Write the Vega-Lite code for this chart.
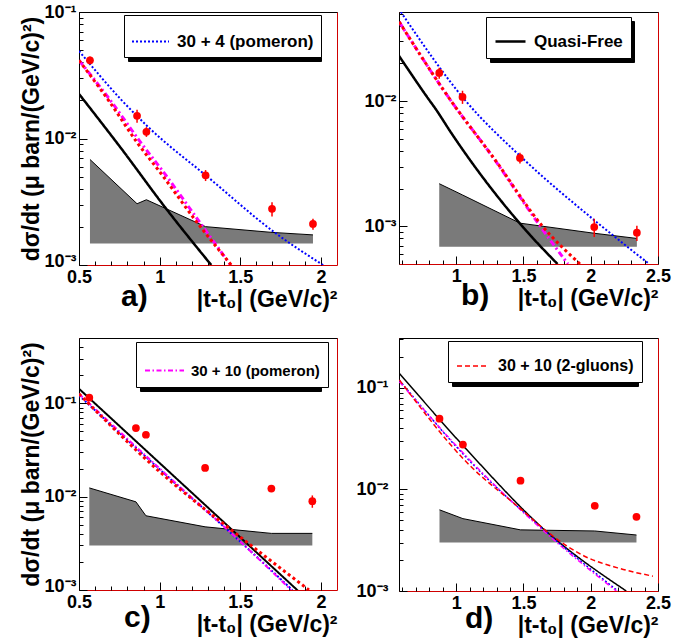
{
"$schema": "https://vega.github.io/schema/vega-lite/v6.json",
"padding": {"left": 19, "top": 2, "right": 0, "bottom": 0},
"background": "white",
"config": {
  "font": "Liberation Sans",
  "view": {"stroke": "#d00000", "strokeWidth": 1},
  "axis": {"labelFont": "Liberation Sans", "labelFontWeight": "bold", "labelColor": "black", "titleFont": "Liberation Sans", "titleFontWeight": "bold", "titleColor": "black", "grid": false, "tickColor": "black", "domainColor": "black", "labelFlush": false, "labelOverlap": false, "tickWidth": 1, "domainWidth": 1},
  "legend": {"labelFont": "Liberation Sans", "labelFontWeight": "bold", "labelColor": "black", "cornerRadius": 0, "labelLimit": 400},
  "title": {"font": "Liberation Sans", "fontWeight": "bold", "color": "black"}
},
"datasets": {
  "pts": [
    {"p":"a","x":0.568,"y":0.0415,"lo":0.0386,"hi":0.0444},
    {"p":"a","x":0.86,"y":0.0151,"lo":0.0133,"hi":0.0169},
    {"p":"a","x":0.918,"y":0.0113,"lo":0.0103,"hi":0.0123},
    {"p":"a","x":1.285,"y":0.00512,"lo":0.00461,"hi":0.00563},
    {"p":"a","x":1.697,"y":0.00278,"lo":0.00242,"hi":0.00314},
    {"p":"a","x":1.951,"y":0.00211,"lo":0.0019,"hi":0.00232},
    {"p":"b","x":0.874,"y":0.0168,"lo":0.0151,"hi":0.0185},
    {"p":"b","x":1.047,"y":0.0108,"lo":0.0095,"hi":0.0121},
    {"p":"b","x":1.474,"y":0.00352,"lo":0.00317,"hi":0.00387},
    {"p":"b","x":2.026,"y":0.000987,"lo":0.00082,"hi":0.00115},
    {"p":"b","x":2.343,"y":0.00089,"lo":0.000765,"hi":0.00101},
    {"p":"c","x":0.564,"y":0.1146,"lo":0.109,"hi":0.12},
    {"p":"c","x":0.853,"y":0.0543,"lo":0.0516,"hi":0.057},
    {"p":"c","x":0.915,"y":0.046,"lo":0.0437,"hi":0.0483},
    {"p":"c","x":1.282,"y":0.0203,"lo":0.0193,"hi":0.0213},
    {"p":"c","x":1.693,"y":0.0122,"lo":0.0112,"hi":0.0132},
    {"p":"c","x":1.947,"y":0.00894,"lo":0.0076,"hi":0.0103},
    {"p":"d","x":0.876,"y":0.0497,"lo":0.0478,"hi":0.0516},
    {"p":"d","x":1.05,"y":0.0277,"lo":0.0266,"hi":0.0288},
    {"p":"d","x":1.478,"y":0.0122,"lo":0.0117,"hi":0.0127},
    {"p":"d","x":2.03,"y":0.0069,"lo":0.0066,"hi":0.0072},
    {"p":"d","x":2.34,"y":0.00537,"lo":0.00515,"hi":0.00559}
  ],
  "band": [
    {"p":"a","x":0.568,"lo":0.00148,"hi":0.00683},
    {"p":"a","x":0.86,"lo":0.00148,"hi":0.00305},
    {"p":"a","x":0.918,"lo":0.00148,"hi":0.00328},
    {"p":"a","x":1.285,"lo":0.00148,"hi":0.00201},
    {"p":"a","x":1.697,"lo":0.00148,"hi":0.00181},
    {"p":"a","x":1.951,"lo":0.00148,"hi":0.00173},
    {"p":"b","x":0.874,"lo":0.000687,"hi":0.00219},
    {"p":"b","x":1.047,"lo":0.000687,"hi":0.00178},
    {"p":"b","x":1.474,"lo":0.000687,"hi":0.00106},
    {"p":"b","x":2.026,"lo":0.000687,"hi":0.00088},
    {"p":"b","x":2.343,"lo":0.000687,"hi":0.0008},
    {"p":"c","x":0.564,"lo":0.003,"hi":0.0124},
    {"p":"c","x":0.853,"lo":0.003,"hi":0.0088},
    {"p":"c","x":0.915,"lo":0.003,"hi":0.00624},
    {"p":"c","x":1.282,"lo":0.003,"hi":0.00475},
    {"p":"c","x":1.693,"lo":0.003,"hi":0.00404},
    {"p":"c","x":1.947,"lo":0.003,"hi":0.00404},
    {"p":"d","x":0.876,"lo":0.003,"hi":0.0063},
    {"p":"d","x":1.05,"lo":0.003,"hi":0.00516},
    {"p":"d","x":1.478,"lo":0.003,"hi":0.004},
    {"p":"d","x":2.03,"lo":0.003,"hi":0.0039},
    {"p":"d","x":2.34,"lo":0.003,"hi":0.00356}
  ],
  "lines": [
    {"p":"a","m":"Quasi-Free","x":0.5,"y":0.0225},
    {"p":"a","m":"Quasi-Free","x":0.76,"y":0.0084},
    {"p":"a","m":"Quasi-Free","x":1.03,"y":0.0029},
    {"p":"a","m":"Quasi-Free","x":1.32,"y":0.001},
    {"p":"a","m":"30 + 4 (pomeron)","x":0.5,"y":0.0492},
    {"p":"a","m":"30 + 4 (pomeron)","x":0.761,"y":0.0203},
    {"p":"a","m":"30 + 4 (pomeron)","x":0.927,"y":0.0124},
    {"p":"a","m":"30 + 4 (pomeron)","x":1.299,"y":0.00496},
    {"p":"a","m":"30 + 4 (pomeron)","x":1.713,"y":0.00181},
    {"p":"a","m":"30 + 4 (pomeron)","x":2.024,"y":0.00098},
    {"p":"a","m":"30 + 10 (pomeron)","x":0.5,"y":0.0415},
    {"p":"a","m":"30 + 10 (pomeron)","x":0.7,"y":0.0196},
    {"p":"a","m":"30 + 10 (pomeron)","x":0.88,"y":0.0094},
    {"p":"a","m":"30 + 10 (pomeron)","x":1.03,"y":0.0053},
    {"p":"a","m":"30 + 10 (pomeron)","x":1.23,"y":0.00235},
    {"p":"a","m":"30 + 10 (pomeron)","x":1.44,"y":0.001},
    {"p":"a","m":"30 + 10 (2-gluons)","x":0.5,"y":0.0415},
    {"p":"a","m":"30 + 10 (2-gluons)","x":0.688,"y":0.0196},
    {"p":"a","m":"30 + 10 (2-gluons)","x":0.864,"y":0.00916},
    {"p":"a","m":"30 + 10 (2-gluons)","x":1.009,"y":0.00528},
    {"p":"a","m":"30 + 10 (2-gluons)","x":1.216,"y":0.00231},
    {"p":"a","m":"30 + 10 (2-gluons)","x":1.444,"y":0.001},
    {"p":"b","m":"Quasi-Free","x":0.576,"y":0.0229},
    {"p":"b","m":"Quasi-Free","x":0.787,"y":0.01066},
    {"p":"b","m":"Quasi-Free","x":0.849,"y":0.0086},
    {"p":"b","m":"Quasi-Free","x":0.961,"y":0.00562},
    {"p":"b","m":"Quasi-Free","x":1.506,"y":0.00096},
    {"p":"b","m":"Quasi-Free","x":1.753,"y":0.0005},
    {"p":"b","m":"30 + 4 (pomeron)","x":0.589,"y":0.0515},
    {"p":"b","m":"30 + 4 (pomeron)","x":1.072,"y":0.01},
    {"p":"b","m":"30 + 4 (pomeron)","x":1.493,"y":0.0035},
    {"p":"b","m":"30 + 4 (pomeron)","x":2.026,"y":0.00112},
    {"p":"b","m":"30 + 4 (pomeron)","x":2.435,"y":0.0005},
    {"p":"b","m":"30 + 10 (pomeron)","x":0.576,"y":0.043},
    {"p":"b","m":"30 + 10 (pomeron)","x":0.96,"y":0.0101},
    {"p":"b","m":"30 + 10 (pomeron)","x":1.27,"y":0.0036},
    {"p":"b","m":"30 + 10 (pomeron)","x":1.625,"y":0.001},
    {"p":"b","m":"30 + 10 (pomeron)","x":1.83,"y":0.0005},
    {"p":"b","m":"30 + 10 (2-gluons)","x":0.576,"y":0.043},
    {"p":"b","m":"30 + 10 (2-gluons)","x":0.963,"y":0.01},
    {"p":"b","m":"30 + 10 (2-gluons)","x":1.28,"y":0.0035},
    {"p":"b","m":"30 + 10 (2-gluons)","x":1.642,"y":0.001},
    {"p":"b","m":"30 + 10 (2-gluons)","x":1.92,"y":0.0005},
    {"p":"c","m":"Quasi-Free","x":0.5,"y":0.143},
    {"p":"c","m":"Quasi-Free","x":1.0,"y":0.0229},
    {"p":"c","m":"Quasi-Free","x":1.5,"y":0.00366},
    {"p":"c","m":"Quasi-Free","x":1.864,"y":0.00096},
    {"p":"c","m":"30 + 4 (pomeron)","x":0.5,"y":0.121},
    {"p":"c","m":"30 + 4 (pomeron)","x":1.0,"y":0.0196},
    {"p":"c","m":"30 + 4 (pomeron)","x":1.5,"y":0.0033},
    {"p":"c","m":"30 + 4 (pomeron)","x":1.823,"y":0.001},
    {"p":"c","m":"30 + 10 (pomeron)","x":0.5,"y":0.126},
    {"p":"c","m":"30 + 10 (pomeron)","x":1.0,"y":0.02},
    {"p":"c","m":"30 + 10 (pomeron)","x":1.5,"y":0.0033},
    {"p":"c","m":"30 + 10 (pomeron)","x":1.815,"y":0.001},
    {"p":"c","m":"30 + 10 (2-gluons)","x":0.5,"y":0.126},
    {"p":"c","m":"30 + 10 (2-gluons)","x":1.0,"y":0.0185},
    {"p":"c","m":"30 + 10 (2-gluons)","x":1.5,"y":0.0037},
    {"p":"c","m":"30 + 10 (2-gluons)","x":1.926,"y":0.001},
    {"p":"d","m":"Quasi-Free","x":0.578,"y":0.139},
    {"p":"d","m":"Quasi-Free","x":1.078,"y":0.0247},
    {"p":"d","m":"Quasi-Free","x":1.657,"y":0.004},
    {"p":"d","m":"Quasi-Free","x":2.264,"y":0.001},
    {"p":"d","m":"30 + 4 (pomeron)","x":0.578,"y":0.119},
    {"p":"d","m":"30 + 4 (pomeron)","x":1.078,"y":0.0205},
    {"p":"d","m":"30 + 4 (pomeron)","x":1.67,"y":0.0038},
    {"p":"d","m":"30 + 4 (pomeron)","x":2.202,"y":0.001},
    {"p":"d","m":"30 + 10 (pomeron)","x":0.578,"y":0.115},
    {"p":"d","m":"30 + 10 (pomeron)","x":1.078,"y":0.021},
    {"p":"d","m":"30 + 10 (pomeron)","x":1.67,"y":0.0037},
    {"p":"d","m":"30 + 10 (pomeron)","x":2.19,"y":0.001},
    {"p":"d","m":"30 + 10 (2-gluons)","x":0.578,"y":0.12},
    {"p":"d","m":"30 + 10 (2-gluons)","x":1.078,"y":0.0185},
    {"p":"d","m":"30 + 10 (2-gluons)","x":1.5,"y":0.0061},
    {"p":"d","m":"30 + 10 (2-gluons)","x":1.67,"y":0.0039},
    {"p":"d","m":"30 + 10 (2-gluons)","x":1.954,"y":0.0022},
    {"p":"d","m":"30 + 10 (2-gluons)","x":2.2,"y":0.00169},
    {"p":"d","m":"30 + 10 (2-gluons)","x":2.462,"y":0.0014}
  ]
},
"spacing": 24,
"resolve": {"scale": {"color": "independent", "strokeDash": "independent", "shape": "independent"}, "legend": {"color": "independent", "strokeDash": "independent", "shape": "independent"}},
"vconcat": [
{"spacing": 25,
 "resolve": {"scale": {"color": "independent", "strokeDash": "independent", "shape": "independent"}, "legend": {"color": "independent", "strokeDash": "independent", "shape": "independent"}},
 "hconcat": [
{
 "width": 258, "height": 253,
 "title": {"text": "a)", "orient": "bottom", "anchor": "start", "frame": "group", "fontSize": 30, "offset": -29, "dx": 42},
 "resolve": {"axis": {"x": "independent", "y": "independent"}},
 "layer": [
  {"data": {"name": "lines"}, "transform": [{"filter": "datum.p == 'a' && datum.m == '30 + 4 (pomeron)'"}],
   "mark": {"type": "point", "filled": true, "opacity": 0},
   "encoding": {
     "x": {"field": "x", "type": "quantitative", "scale": {"domain": [0.5, 2.1], "nice": false, "zero": false}, "axis": null},
     "y": {"field": "y", "type": "quantitative", "scale": {"type": "log", "domain": [0.001, 0.1], "nice": false}, "axis": null},
     "shape": {"field": "m", "type": "nominal", "scale": {"domain": ["30 + 4 (pomeron)"], "range": ["stroke"]},
       "legend": {"orient": "none", "legendX": 49, "legendY": 7, "title": null, "symbolType": "stroke", "symbolSize": 1369, "symbolStrokeWidth": 2, "symbolOpacity": 0, "labelFontSize": 17, "labelOffset": 140, "padding": 7, "fillColor": "black", "strokeColor": "black", "labelColor": "black", "labelExpr": "''"}}
   }},
  {"data": {"name": "band"}, "transform": [{"filter": "datum.p == 'a'"}],
   "mark": {"type": "area", "color": "#7a7a7a", "opacity": 1},
   "encoding": {
     "x": {"field": "x", "type": "quantitative", "scale": {"domain": [0.5, 2.1], "nice": false, "zero": false},
       "axis": {"orient": "bottom", "values": [0.5, 1, 1.5, 2], "format": "~g", "domain": false, "tickSize": -8, "labelPadding": 11, "labelFontSize": 18, "title": "|t-t₀| (GeV/c)²", "titleAnchor": "end", "titleFontSize": 23, "titlePadding": 0, "minExtent": 23, "maxExtent": 23}},
     "y": {"field": "hi", "type": "quantitative", "scale": {"type": "log", "domain": [0.001, 0.1], "nice": false},
       "axis": {"orient": "left", "values": [0.001, 0.01, 0.1], "labelExpr": "datum.value < 0.005 ? '10⁻³' : (datum.value < 0.05 ? '10⁻²' : '10⁻¹')", "labelOffset": {"condition": {"test": "datum.value < 0.0015", "value": -4}, "value": 0}, "domain": true, "tickSize": -8, "labelPadding": 11, "labelFontSize": 18, "title": "dσ/dt (μ barn/(GeV/c)²)", "titleFontSize": 23, "titlePadding": 0, "minExtent": 36, "maxExtent": 36}},
     "y2": {"field": "lo"}
   }},
  {"data": {"name": "band"}, "transform": [{"filter": "datum.p == 'a'"}],
   "mark": {"type": "line", "color": "black", "strokeWidth": 1},
   "encoding": {
     "x": {"field": "x", "type": "quantitative", "scale": {"domain": [0.5, 2.1], "nice": false, "zero": false}, "axis": null},
     "y": {"field": "hi", "type": "quantitative", "scale": {"type": "log", "domain": [0.001, 0.1], "nice": false}, "axis": null}
   }},
  {"data": {"name": "lines"}, "transform": [{"filter": "datum.p == 'a' && datum.m == 'Quasi-Free'"}],
   "mark": {"type": "line", "clip": true, "strokeWidth": 2.5, "interpolate": "monotone"},
   "encoding": {
     "x": {"field": "x", "type": "quantitative", "scale": {"domain": [0.5, 2.1], "nice": false, "zero": false}, "axis": null},
     "y": {"field": "y", "type": "quantitative", "scale": {"type": "log", "domain": [0.001, 0.1], "nice": false}, "axis": null},
     "color": {"field": "m", "type": "nominal", "scale": {"domain": ["30 + 4 (pomeron)", "Quasi-Free", "30 + 10 (pomeron)", "30 + 10 (2-gluons)"], "range": ["#0000ff", "#000000", "#ff00ff", "#ff0000"]},
       "legend": {"values": ["30 + 4 (pomeron)"], "orient": "none", "legendX": 45, "legendY": 3, "title": null, "symbolType": "stroke", "symbolSize": 1369, "symbolStrokeWidth": 2, "labelFontSize": 17, "labelOffset": 7, "padding": 7, "fillColor": "white", "strokeColor": "black", "labelExpr": "datum.label + '      '"}},
     "strokeDash": {"field": "m", "type": "nominal", "scale": {"domain": ["30 + 4 (pomeron)", "Quasi-Free", "30 + 10 (pomeron)", "30 + 10 (2-gluons)"], "range": [[2, 2], [1, 0], [6, 3, 2, 3], [3, 3]]},
       "legend": {"values": ["30 + 4 (pomeron)"], "orient": "none", "legendX": 45, "legendY": 3, "title": null, "symbolType": "stroke", "symbolSize": 1369, "symbolStrokeWidth": 2, "labelFontSize": 17, "labelOffset": 7, "padding": 7, "fillColor": "white", "strokeColor": "black", "labelExpr": "datum.label + '      '"}}
   }},
  {"data": {"name": "lines"}, "transform": [{"filter": "datum.p == 'a' && datum.m == '30 + 4 (pomeron)'"}],
   "mark": {"type": "line", "clip": true, "strokeWidth": 2, "interpolate": "monotone"},
   "encoding": {
     "x": {"field": "x", "type": "quantitative", "scale": {"domain": [0.5, 2.1], "nice": false, "zero": false}, "axis": null},
     "y": {"field": "y", "type": "quantitative", "scale": {"type": "log", "domain": [0.001, 0.1], "nice": false}, "axis": null},
     "color": {"field": "m", "type": "nominal", "scale": {"domain": ["30 + 4 (pomeron)", "Quasi-Free", "30 + 10 (pomeron)", "30 + 10 (2-gluons)"], "range": ["#0000ff", "#000000", "#ff00ff", "#ff0000"]},
       "legend": {"values": ["30 + 4 (pomeron)"], "orient": "none", "legendX": 45, "legendY": 3, "title": null, "symbolType": "stroke", "symbolSize": 1369, "symbolStrokeWidth": 2, "labelFontSize": 17, "labelOffset": 7, "padding": 7, "fillColor": "white", "strokeColor": "black", "labelExpr": "datum.label + '      '"}},
     "strokeDash": {"field": "m", "type": "nominal", "scale": {"domain": ["30 + 4 (pomeron)", "Quasi-Free", "30 + 10 (pomeron)", "30 + 10 (2-gluons)"], "range": [[2, 2], [1, 0], [6, 3, 2, 3], [3, 3]]},
       "legend": {"values": ["30 + 4 (pomeron)"], "orient": "none", "legendX": 45, "legendY": 3, "title": null, "symbolType": "stroke", "symbolSize": 1369, "symbolStrokeWidth": 2, "labelFontSize": 17, "labelOffset": 7, "padding": 7, "fillColor": "white", "strokeColor": "black", "labelExpr": "datum.label + '      '"}}
   }},
  {"data": {"name": "lines"}, "transform": [{"filter": "datum.p == 'a' && datum.m == '30 + 10 (pomeron)'"}],
   "mark": {"type": "line", "clip": true, "strokeWidth": 3, "interpolate": "monotone"},
   "encoding": {
     "x": {"field": "x", "type": "quantitative", "scale": {"domain": [0.5, 2.1], "nice": false, "zero": false}, "axis": null},
     "y": {"field": "y", "type": "quantitative", "scale": {"type": "log", "domain": [0.001, 0.1], "nice": false}, "axis": null},
     "color": {"field": "m", "type": "nominal", "scale": {"domain": ["30 + 4 (pomeron)", "Quasi-Free", "30 + 10 (pomeron)", "30 + 10 (2-gluons)"], "range": ["#0000ff", "#000000", "#ff00ff", "#ff0000"]},
       "legend": {"values": ["30 + 4 (pomeron)"], "orient": "none", "legendX": 45, "legendY": 3, "title": null, "symbolType": "stroke", "symbolSize": 1369, "symbolStrokeWidth": 2, "labelFontSize": 17, "labelOffset": 7, "padding": 7, "fillColor": "white", "strokeColor": "black", "labelExpr": "datum.label + '      '"}},
     "strokeDash": {"field": "m", "type": "nominal", "scale": {"domain": ["30 + 4 (pomeron)", "Quasi-Free", "30 + 10 (pomeron)", "30 + 10 (2-gluons)"], "range": [[2, 2], [1, 0], [6, 3, 2, 3], [3, 3]]},
       "legend": {"values": ["30 + 4 (pomeron)"], "orient": "none", "legendX": 45, "legendY": 3, "title": null, "symbolType": "stroke", "symbolSize": 1369, "symbolStrokeWidth": 2, "labelFontSize": 17, "labelOffset": 7, "padding": 7, "fillColor": "white", "strokeColor": "black", "labelExpr": "datum.label + '      '"}}
   }},
  {"data": {"name": "lines"}, "transform": [{"filter": "datum.p == 'a' && datum.m == '30 + 10 (2-gluons)'"}],
   "mark": {"type": "line", "clip": true, "strokeWidth": 3, "interpolate": "monotone"},
   "encoding": {
     "x": {"field": "x", "type": "quantitative", "scale": {"domain": [0.5, 2.1], "nice": false, "zero": false}, "axis": null},
     "y": {"field": "y", "type": "quantitative", "scale": {"type": "log", "domain": [0.001, 0.1], "nice": false}, "axis": null},
     "color": {"field": "m", "type": "nominal", "scale": {"domain": ["30 + 4 (pomeron)", "Quasi-Free", "30 + 10 (pomeron)", "30 + 10 (2-gluons)"], "range": ["#0000ff", "#000000", "#ff00ff", "#ff0000"]},
       "legend": {"values": ["30 + 4 (pomeron)"], "orient": "none", "legendX": 45, "legendY": 3, "title": null, "symbolType": "stroke", "symbolSize": 1369, "symbolStrokeWidth": 2, "labelFontSize": 17, "labelOffset": 7, "padding": 7, "fillColor": "white", "strokeColor": "black", "labelExpr": "datum.label + '      '"}},
     "strokeDash": {"field": "m", "type": "nominal", "scale": {"domain": ["30 + 4 (pomeron)", "Quasi-Free", "30 + 10 (pomeron)", "30 + 10 (2-gluons)"], "range": [[2, 2], [1, 0], [6, 3, 2, 3], [3, 3]]},
       "legend": {"values": ["30 + 4 (pomeron)"], "orient": "none", "legendX": 45, "legendY": 3, "title": null, "symbolType": "stroke", "symbolSize": 1369, "symbolStrokeWidth": 2, "labelFontSize": 17, "labelOffset": 7, "padding": 7, "fillColor": "white", "strokeColor": "black", "labelExpr": "datum.label + '      '"}}
   }},
  {"data": {"name": "pts"}, "transform": [{"filter": "datum.p == 'a'"}],
   "mark": {"type": "rule", "color": "#ff0000", "strokeWidth": 1.5},
   "encoding": {
     "x": {"field": "x", "type": "quantitative", "scale": {"domain": [0.5, 2.1], "nice": false, "zero": false}, "axis": {"orient": "top", "domain": true, "ticks": false, "labels": false, "title": null}},
     "y": {"field": "lo", "type": "quantitative", "scale": {"type": "log", "domain": [0.001, 0.1], "nice": false}, "axis": null},
     "y2": {"field": "hi"}
   }},
  {"data": {"name": "pts"}, "transform": [{"filter": "datum.p == 'a'"}],
   "mark": {"type": "circle", "color": "#ff0000", "opacity": 1, "size": 60},
   "encoding": {
     "x": {"field": "x", "type": "quantitative", "scale": {"domain": [0.5, 2.1], "nice": false, "zero": false}, "axis": {"orient": "bottom", "values": [0.6,0.7,0.8,0.9,1.1,1.2,1.3,1.4,1.6,1.7,1.8,1.9], "labels": false, "domain": false, "tickSize": -4, "title": null}},
     "y": {"field": "y", "type": "quantitative", "scale": {"type": "log", "domain": [0.001, 0.1], "nice": false}, "axis": {"orient": "left", "values": [0.002,0.003,0.004,0.005,0.006,0.007,0.008,0.009,0.02,0.03,0.04,0.05,0.06,0.07,0.08,0.09], "labels": false, "domain": false, "tickSize": -4, "title": null}}
   }}
 ]
},
{
 "width": 259, "height": 252,
 "title": {"text": "b)", "orient": "bottom", "anchor": "start", "frame": "group", "fontSize": 30, "offset": -29, "dx": 62},
 "resolve": {"axis": {"x": "independent", "y": "independent"}},
 "layer": [
  {"data": {"name": "lines"}, "transform": [{"filter": "datum.p == 'b' && datum.m == 'Quasi-Free'"}],
   "mark": {"type": "point", "filled": true, "opacity": 0},
   "encoding": {
     "x": {"field": "x", "type": "quantitative", "scale": {"domain": [0.575, 2.5], "nice": false, "zero": false}, "axis": null},
     "y": {"field": "y", "type": "quantitative", "scale": {"type": "log", "domain": [0.0005, 0.0515], "nice": false}, "axis": null},
     "shape": {"field": "m", "type": "nominal", "scale": {"domain": ["Quasi-Free"], "range": ["stroke"]},
       "legend": {"orient": "none", "legendX": 91, "legendY": 9, "title": null, "symbolType": "stroke", "symbolSize": 900, "symbolStrokeWidth": 2.5, "symbolOpacity": 0, "labelFontSize": 17, "labelOffset": 95, "padding": 8, "fillColor": "black", "strokeColor": "black", "labelColor": "black", "labelExpr": "''"}}
   }},
  {"data": {"name": "band"}, "transform": [{"filter": "datum.p == 'b'"}],
   "mark": {"type": "area", "color": "#7a7a7a", "opacity": 1},
   "encoding": {
     "x": {"field": "x", "type": "quantitative", "scale": {"domain": [0.575, 2.5], "nice": false, "zero": false},
       "axis": {"orient": "bottom", "values": [1, 1.5, 2, 2.5], "format": "~g", "domain": false, "tickSize": -8, "labelPadding": 11, "labelFontSize": 18, "title": "|t-t₀| (GeV/c)²", "titleAnchor": "end", "titleFontSize": 23, "titlePadding": 0, "minExtent": 23, "maxExtent": 23}},
     "y": {"field": "hi", "type": "quantitative", "scale": {"type": "log", "domain": [0.0005, 0.0515], "nice": false},
       "axis": {"orient": "left", "values": [0.001, 0.01], "labelExpr": "datum.value < 0.005 ? '10⁻³' : (datum.value < 0.05 ? '10⁻²' : '10⁻¹')", "domain": true, "tickSize": -8, "labelPadding": 11, "labelFontSize": 18, "title": null}},
     "y2": {"field": "lo"}
   }},
  {"data": {"name": "band"}, "transform": [{"filter": "datum.p == 'b'"}],
   "mark": {"type": "line", "color": "black", "strokeWidth": 1},
   "encoding": {
     "x": {"field": "x", "type": "quantitative", "scale": {"domain": [0.575, 2.5], "nice": false, "zero": false}, "axis": null},
     "y": {"field": "hi", "type": "quantitative", "scale": {"type": "log", "domain": [0.0005, 0.0515], "nice": false}, "axis": null}
   }},
  {"data": {"name": "lines"}, "transform": [{"filter": "datum.p == 'b' && datum.m == 'Quasi-Free'"}],
   "mark": {"type": "line", "clip": true, "strokeWidth": 2.5, "interpolate": "monotone"},
   "encoding": {
     "x": {"field": "x", "type": "quantitative", "scale": {"domain": [0.575, 2.5], "nice": false, "zero": false}, "axis": null},
     "y": {"field": "y", "type": "quantitative", "scale": {"type": "log", "domain": [0.0005, 0.0515], "nice": false}, "axis": null},
     "color": {"field": "m", "type": "nominal", "scale": {"domain": ["30 + 4 (pomeron)", "Quasi-Free", "30 + 10 (pomeron)", "30 + 10 (2-gluons)"], "range": ["#0000ff", "#000000", "#ff00ff", "#ff0000"]},
       "legend": {"values": ["Quasi-Free"], "orient": "none", "legendX": 87, "legendY": 5, "title": null, "symbolType": "stroke", "symbolSize": 900, "symbolStrokeWidth": 2.5, "labelFontSize": 17, "labelOffset": 7, "padding": 8, "fillColor": "white", "strokeColor": "black", "labelExpr": "datum.label + '   '"}},
     "strokeDash": {"field": "m", "type": "nominal", "scale": {"domain": ["30 + 4 (pomeron)", "Quasi-Free", "30 + 10 (pomeron)", "30 + 10 (2-gluons)"], "range": [[2, 2], [1, 0], [6, 3, 2, 3], [3, 3]]},
       "legend": {"values": ["Quasi-Free"], "orient": "none", "legendX": 87, "legendY": 5, "title": null, "symbolType": "stroke", "symbolSize": 900, "symbolStrokeWidth": 2.5, "labelFontSize": 17, "labelOffset": 7, "padding": 8, "fillColor": "white", "strokeColor": "black", "labelExpr": "datum.label + '   '"}}
   }},
  {"data": {"name": "lines"}, "transform": [{"filter": "datum.p == 'b' && datum.m == '30 + 4 (pomeron)'"}],
   "mark": {"type": "line", "clip": true, "strokeWidth": 2, "interpolate": "monotone"},
   "encoding": {
     "x": {"field": "x", "type": "quantitative", "scale": {"domain": [0.575, 2.5], "nice": false, "zero": false}, "axis": null},
     "y": {"field": "y", "type": "quantitative", "scale": {"type": "log", "domain": [0.0005, 0.0515], "nice": false}, "axis": null},
     "color": {"field": "m", "type": "nominal", "scale": {"domain": ["30 + 4 (pomeron)", "Quasi-Free", "30 + 10 (pomeron)", "30 + 10 (2-gluons)"], "range": ["#0000ff", "#000000", "#ff00ff", "#ff0000"]},
       "legend": {"values": ["Quasi-Free"], "orient": "none", "legendX": 87, "legendY": 5, "title": null, "symbolType": "stroke", "symbolSize": 900, "symbolStrokeWidth": 2.5, "labelFontSize": 17, "labelOffset": 7, "padding": 8, "fillColor": "white", "strokeColor": "black", "labelExpr": "datum.label + '   '"}},
     "strokeDash": {"field": "m", "type": "nominal", "scale": {"domain": ["30 + 4 (pomeron)", "Quasi-Free", "30 + 10 (pomeron)", "30 + 10 (2-gluons)"], "range": [[2, 2], [1, 0], [6, 3, 2, 3], [3, 3]]},
       "legend": {"values": ["Quasi-Free"], "orient": "none", "legendX": 87, "legendY": 5, "title": null, "symbolType": "stroke", "symbolSize": 900, "symbolStrokeWidth": 2.5, "labelFontSize": 17, "labelOffset": 7, "padding": 8, "fillColor": "white", "strokeColor": "black", "labelExpr": "datum.label + '   '"}}
   }},
  {"data": {"name": "lines"}, "transform": [{"filter": "datum.p == 'b' && datum.m == '30 + 10 (pomeron)'"}],
   "mark": {"type": "line", "clip": true, "strokeWidth": 3, "interpolate": "monotone"},
   "encoding": {
     "x": {"field": "x", "type": "quantitative", "scale": {"domain": [0.575, 2.5], "nice": false, "zero": false}, "axis": null},
     "y": {"field": "y", "type": "quantitative", "scale": {"type": "log", "domain": [0.0005, 0.0515], "nice": false}, "axis": null},
     "color": {"field": "m", "type": "nominal", "scale": {"domain": ["30 + 4 (pomeron)", "Quasi-Free", "30 + 10 (pomeron)", "30 + 10 (2-gluons)"], "range": ["#0000ff", "#000000", "#ff00ff", "#ff0000"]},
       "legend": {"values": ["Quasi-Free"], "orient": "none", "legendX": 87, "legendY": 5, "title": null, "symbolType": "stroke", "symbolSize": 900, "symbolStrokeWidth": 2.5, "labelFontSize": 17, "labelOffset": 7, "padding": 8, "fillColor": "white", "strokeColor": "black", "labelExpr": "datum.label + '   '"}},
     "strokeDash": {"field": "m", "type": "nominal", "scale": {"domain": ["30 + 4 (pomeron)", "Quasi-Free", "30 + 10 (pomeron)", "30 + 10 (2-gluons)"], "range": [[2, 2], [1, 0], [6, 3, 2, 3], [3, 3]]},
       "legend": {"values": ["Quasi-Free"], "orient": "none", "legendX": 87, "legendY": 5, "title": null, "symbolType": "stroke", "symbolSize": 900, "symbolStrokeWidth": 2.5, "labelFontSize": 17, "labelOffset": 7, "padding": 8, "fillColor": "white", "strokeColor": "black", "labelExpr": "datum.label + '   '"}}
   }},
  {"data": {"name": "lines"}, "transform": [{"filter": "datum.p == 'b' && datum.m == '30 + 10 (2-gluons)'"}],
   "mark": {"type": "line", "clip": true, "strokeWidth": 3, "interpolate": "monotone"},
   "encoding": {
     "x": {"field": "x", "type": "quantitative", "scale": {"domain": [0.575, 2.5], "nice": false, "zero": false}, "axis": null},
     "y": {"field": "y", "type": "quantitative", "scale": {"type": "log", "domain": [0.0005, 0.0515], "nice": false}, "axis": null},
     "color": {"field": "m", "type": "nominal", "scale": {"domain": ["30 + 4 (pomeron)", "Quasi-Free", "30 + 10 (pomeron)", "30 + 10 (2-gluons)"], "range": ["#0000ff", "#000000", "#ff00ff", "#ff0000"]},
       "legend": {"values": ["Quasi-Free"], "orient": "none", "legendX": 87, "legendY": 5, "title": null, "symbolType": "stroke", "symbolSize": 900, "symbolStrokeWidth": 2.5, "labelFontSize": 17, "labelOffset": 7, "padding": 8, "fillColor": "white", "strokeColor": "black", "labelExpr": "datum.label + '   '"}},
     "strokeDash": {"field": "m", "type": "nominal", "scale": {"domain": ["30 + 4 (pomeron)", "Quasi-Free", "30 + 10 (pomeron)", "30 + 10 (2-gluons)"], "range": [[2, 2], [1, 0], [6, 3, 2, 3], [3, 3]]},
       "legend": {"values": ["Quasi-Free"], "orient": "none", "legendX": 87, "legendY": 5, "title": null, "symbolType": "stroke", "symbolSize": 900, "symbolStrokeWidth": 2.5, "labelFontSize": 17, "labelOffset": 7, "padding": 8, "fillColor": "white", "strokeColor": "black", "labelExpr": "datum.label + '   '"}}
   }},
  {"data": {"name": "pts"}, "transform": [{"filter": "datum.p == 'b'"}],
   "mark": {"type": "rule", "color": "#ff0000", "strokeWidth": 1.5},
   "encoding": {
     "x": {"field": "x", "type": "quantitative", "scale": {"domain": [0.575, 2.5], "nice": false, "zero": false}, "axis": {"orient": "top", "domain": true, "ticks": false, "labels": false, "title": null}},
     "y": {"field": "lo", "type": "quantitative", "scale": {"type": "log", "domain": [0.0005, 0.0515], "nice": false}, "axis": null},
     "y2": {"field": "hi"}
   }},
  {"data": {"name": "pts"}, "transform": [{"filter": "datum.p == 'b'"}],
   "mark": {"type": "circle", "color": "#ff0000", "opacity": 1, "size": 60},
   "encoding": {
     "x": {"field": "x", "type": "quantitative", "scale": {"domain": [0.575, 2.5], "nice": false, "zero": false}, "axis": {"orient": "bottom", "values": [0.6,0.7,0.8,0.9,1.1,1.2,1.3,1.4,1.6,1.7,1.8,1.9,2.1,2.2,2.3,2.4], "labels": false, "domain": false, "tickSize": -4, "title": null}},
     "y": {"field": "y", "type": "quantitative", "scale": {"type": "log", "domain": [0.0005, 0.0515], "nice": false}, "axis": {"orient": "left", "values": [0.0006,0.0007,0.0008,0.0009,0.002,0.003,0.004,0.005,0.006,0.007,0.008,0.009,0.02,0.03,0.04,0.05], "labels": false, "domain": false, "tickSize": -4, "title": null}}
   }}
 ]
}
]},
{"spacing": 17,
 "resolve": {"scale": {"color": "independent", "strokeDash": "independent", "shape": "independent"}, "legend": {"color": "independent", "strokeDash": "independent", "shape": "independent"}},
 "hconcat": [
{
 "width": 258, "height": 252,
 "title": {"text": "c)", "orient": "bottom", "anchor": "start", "frame": "group", "fontSize": 30, "offset": -33, "dx": 45},
 "resolve": {"axis": {"x": "independent", "y": "independent"}},
 "layer": [
  {"data": {"name": "lines"}, "transform": [{"filter": "datum.p == 'c' && datum.m == '30 + 10 (pomeron)'"}],
   "mark": {"type": "point", "filled": true, "opacity": 0},
   "encoding": {
     "x": {"field": "x", "type": "quantitative", "scale": {"domain": [0.5, 2.1], "nice": false, "zero": false}, "axis": null},
     "y": {"field": "y", "type": "quantitative", "scale": {"type": "log", "domain": [0.001, 0.5], "nice": false}, "axis": null},
     "shape": {"field": "m", "type": "nominal", "scale": {"domain": ["30 + 10 (pomeron)"], "range": ["stroke"]},
       "legend": {"orient": "none", "legendX": 61, "legendY": 8, "title": null, "symbolType": "stroke", "symbolSize": 1521, "symbolStrokeWidth": 2, "symbolOpacity": 0, "labelFontSize": 15, "labelOffset": 124, "padding": 8, "fillColor": "black", "strokeColor": "black", "labelColor": "black", "labelExpr": "''"}}
   }},
  {"data": {"name": "band"}, "transform": [{"filter": "datum.p == 'c'"}],
   "mark": {"type": "area", "color": "#7a7a7a", "opacity": 1},
   "encoding": {
     "x": {"field": "x", "type": "quantitative", "scale": {"domain": [0.5, 2.1], "nice": false, "zero": false},
       "axis": {"orient": "bottom", "values": [0.5, 1, 1.5, 2], "format": "~g", "domain": false, "tickSize": -8, "labelPadding": 11, "labelFontSize": 18, "title": "|t-t₀| (GeV/c)²", "titleAnchor": "end", "titleFontSize": 23, "titlePadding": 0, "minExtent": 23, "maxExtent": 23}},
     "y": {"field": "hi", "type": "quantitative", "scale": {"type": "log", "domain": [0.001, 0.5], "nice": false},
       "axis": {"orient": "left", "values": [0.001, 0.01, 0.1], "labelExpr": "datum.value < 0.005 ? '10⁻³' : (datum.value < 0.05 ? '10⁻²' : '10⁻¹')", "labelOffset": {"condition": {"test": "datum.value < 0.0015", "value": -4}, "value": 0}, "domain": true, "tickSize": -8, "labelPadding": 11, "labelFontSize": 18, "title": "dσ/dt (μ barn/(GeV/c)²)", "titleFontSize": 23, "titlePadding": 0, "minExtent": 36, "maxExtent": 36}},
     "y2": {"field": "lo"}
   }},
  {"data": {"name": "band"}, "transform": [{"filter": "datum.p == 'c'"}],
   "mark": {"type": "line", "color": "black", "strokeWidth": 1},
   "encoding": {
     "x": {"field": "x", "type": "quantitative", "scale": {"domain": [0.5, 2.1], "nice": false, "zero": false}, "axis": null},
     "y": {"field": "hi", "type": "quantitative", "scale": {"type": "log", "domain": [0.001, 0.5], "nice": false}, "axis": null}
   }},
  {"data": {"name": "lines"}, "transform": [{"filter": "datum.p == 'c' && datum.m == 'Quasi-Free'"}],
   "mark": {"type": "line", "clip": true, "strokeWidth": 2, "interpolate": "monotone"},
   "encoding": {
     "x": {"field": "x", "type": "quantitative", "scale": {"domain": [0.5, 2.1], "nice": false, "zero": false}, "axis": null},
     "y": {"field": "y", "type": "quantitative", "scale": {"type": "log", "domain": [0.001, 0.5], "nice": false}, "axis": null},
     "color": {"field": "m", "type": "nominal", "scale": {"domain": ["30 + 4 (pomeron)", "Quasi-Free", "30 + 10 (pomeron)", "30 + 10 (2-gluons)"], "range": ["#0000ff", "#000000", "#ff00ff", "#ff0000"]},
       "legend": {"values": ["30 + 10 (pomeron)"], "orient": "none", "legendX": 57, "legendY": 4, "title": null, "symbolType": "stroke", "symbolSize": 1521, "symbolStrokeWidth": 2, "labelFontSize": 15, "labelOffset": 6, "padding": 8, "fillColor": "white", "strokeColor": "black", "labelExpr": "datum.label + '  '"}},
     "strokeDash": {"field": "m", "type": "nominal", "scale": {"domain": ["30 + 4 (pomeron)", "Quasi-Free", "30 + 10 (pomeron)", "30 + 10 (2-gluons)"], "range": [[2, 2], [1, 0], [5, 2.5, 1.5, 2.5], [3, 3]]},
       "legend": {"values": ["30 + 10 (pomeron)"], "orient": "none", "legendX": 57, "legendY": 4, "title": null, "symbolType": "stroke", "symbolSize": 1521, "symbolStrokeWidth": 2, "labelFontSize": 15, "labelOffset": 6, "padding": 8, "fillColor": "white", "strokeColor": "black", "labelExpr": "datum.label + '  '"}}
   }},
  {"data": {"name": "lines"}, "transform": [{"filter": "datum.p == 'c' && datum.m == '30 + 4 (pomeron)'"}],
   "mark": {"type": "line", "clip": true, "strokeWidth": 2, "interpolate": "monotone"},
   "encoding": {
     "x": {"field": "x", "type": "quantitative", "scale": {"domain": [0.5, 2.1], "nice": false, "zero": false}, "axis": null},
     "y": {"field": "y", "type": "quantitative", "scale": {"type": "log", "domain": [0.001, 0.5], "nice": false}, "axis": null},
     "color": {"field": "m", "type": "nominal", "scale": {"domain": ["30 + 4 (pomeron)", "Quasi-Free", "30 + 10 (pomeron)", "30 + 10 (2-gluons)"], "range": ["#0000ff", "#000000", "#ff00ff", "#ff0000"]},
       "legend": {"values": ["30 + 10 (pomeron)"], "orient": "none", "legendX": 57, "legendY": 4, "title": null, "symbolType": "stroke", "symbolSize": 1521, "symbolStrokeWidth": 2, "labelFontSize": 15, "labelOffset": 6, "padding": 8, "fillColor": "white", "strokeColor": "black", "labelExpr": "datum.label + '  '"}},
     "strokeDash": {"field": "m", "type": "nominal", "scale": {"domain": ["30 + 4 (pomeron)", "Quasi-Free", "30 + 10 (pomeron)", "30 + 10 (2-gluons)"], "range": [[2, 2], [1, 0], [5, 2.5, 1.5, 2.5], [3, 3]]},
       "legend": {"values": ["30 + 10 (pomeron)"], "orient": "none", "legendX": 57, "legendY": 4, "title": null, "symbolType": "stroke", "symbolSize": 1521, "symbolStrokeWidth": 2, "labelFontSize": 15, "labelOffset": 6, "padding": 8, "fillColor": "white", "strokeColor": "black", "labelExpr": "datum.label + '  '"}}
   }},
  {"data": {"name": "lines"}, "transform": [{"filter": "datum.p == 'c' && datum.m == '30 + 10 (pomeron)'"}],
   "mark": {"type": "line", "clip": true, "strokeWidth": 2, "interpolate": "monotone"},
   "encoding": {
     "x": {"field": "x", "type": "quantitative", "scale": {"domain": [0.5, 2.1], "nice": false, "zero": false}, "axis": null},
     "y": {"field": "y", "type": "quantitative", "scale": {"type": "log", "domain": [0.001, 0.5], "nice": false}, "axis": null},
     "color": {"field": "m", "type": "nominal", "scale": {"domain": ["30 + 4 (pomeron)", "Quasi-Free", "30 + 10 (pomeron)", "30 + 10 (2-gluons)"], "range": ["#0000ff", "#000000", "#ff00ff", "#ff0000"]},
       "legend": {"values": ["30 + 10 (pomeron)"], "orient": "none", "legendX": 57, "legendY": 4, "title": null, "symbolType": "stroke", "symbolSize": 1521, "symbolStrokeWidth": 2, "labelFontSize": 15, "labelOffset": 6, "padding": 8, "fillColor": "white", "strokeColor": "black", "labelExpr": "datum.label + '  '"}},
     "strokeDash": {"field": "m", "type": "nominal", "scale": {"domain": ["30 + 4 (pomeron)", "Quasi-Free", "30 + 10 (pomeron)", "30 + 10 (2-gluons)"], "range": [[2, 2], [1, 0], [5, 2.5, 1.5, 2.5], [3, 3]]},
       "legend": {"values": ["30 + 10 (pomeron)"], "orient": "none", "legendX": 57, "legendY": 4, "title": null, "symbolType": "stroke", "symbolSize": 1521, "symbolStrokeWidth": 2, "labelFontSize": 15, "labelOffset": 6, "padding": 8, "fillColor": "white", "strokeColor": "black", "labelExpr": "datum.label + '  '"}}
   }},
  {"data": {"name": "lines"}, "transform": [{"filter": "datum.p == 'c' && datum.m == '30 + 10 (2-gluons)'"}],
   "mark": {"type": "line", "clip": true, "strokeWidth": 3, "interpolate": "monotone"},
   "encoding": {
     "x": {"field": "x", "type": "quantitative", "scale": {"domain": [0.5, 2.1], "nice": false, "zero": false}, "axis": null},
     "y": {"field": "y", "type": "quantitative", "scale": {"type": "log", "domain": [0.001, 0.5], "nice": false}, "axis": null},
     "color": {"field": "m", "type": "nominal", "scale": {"domain": ["30 + 4 (pomeron)", "Quasi-Free", "30 + 10 (pomeron)", "30 + 10 (2-gluons)"], "range": ["#0000ff", "#000000", "#ff00ff", "#ff0000"]},
       "legend": {"values": ["30 + 10 (pomeron)"], "orient": "none", "legendX": 57, "legendY": 4, "title": null, "symbolType": "stroke", "symbolSize": 1521, "symbolStrokeWidth": 2, "labelFontSize": 15, "labelOffset": 6, "padding": 8, "fillColor": "white", "strokeColor": "black", "labelExpr": "datum.label + '  '"}},
     "strokeDash": {"field": "m", "type": "nominal", "scale": {"domain": ["30 + 4 (pomeron)", "Quasi-Free", "30 + 10 (pomeron)", "30 + 10 (2-gluons)"], "range": [[2, 2], [1, 0], [5, 2.5, 1.5, 2.5], [3, 3]]},
       "legend": {"values": ["30 + 10 (pomeron)"], "orient": "none", "legendX": 57, "legendY": 4, "title": null, "symbolType": "stroke", "symbolSize": 1521, "symbolStrokeWidth": 2, "labelFontSize": 15, "labelOffset": 6, "padding": 8, "fillColor": "white", "strokeColor": "black", "labelExpr": "datum.label + '  '"}}
   }},
  {"data": {"name": "pts"}, "transform": [{"filter": "datum.p == 'c'"}],
   "mark": {"type": "rule", "color": "#ff0000", "strokeWidth": 1.5},
   "encoding": {
     "x": {"field": "x", "type": "quantitative", "scale": {"domain": [0.5, 2.1], "nice": false, "zero": false}, "axis": {"orient": "top", "domain": true, "ticks": false, "labels": false, "title": null}},
     "y": {"field": "lo", "type": "quantitative", "scale": {"type": "log", "domain": [0.001, 0.5], "nice": false}, "axis": null},
     "y2": {"field": "hi"}
   }},
  {"data": {"name": "pts"}, "transform": [{"filter": "datum.p == 'c'"}],
   "mark": {"type": "circle", "color": "#ff0000", "opacity": 1, "size": 60},
   "encoding": {
     "x": {"field": "x", "type": "quantitative", "scale": {"domain": [0.5, 2.1], "nice": false, "zero": false}, "axis": {"orient": "bottom", "values": [0.6,0.7,0.8,0.9,1.1,1.2,1.3,1.4,1.6,1.7,1.8,1.9], "labels": false, "domain": false, "tickSize": -4, "title": null}},
     "y": {"field": "y", "type": "quantitative", "scale": {"type": "log", "domain": [0.001, 0.5], "nice": false}, "axis": {"orient": "left", "values": [0.002,0.003,0.004,0.005,0.006,0.007,0.008,0.009,0.02,0.03,0.04,0.05,0.06,0.07,0.08,0.09,0.2,0.3,0.4], "labels": false, "domain": false, "tickSize": -4, "title": null}}
   }}
 ]
},
{
 "width": 259, "height": 253,
 "title": {"text": "d)", "orient": "bottom", "anchor": "start", "frame": "group", "fontSize": 30, "offset": -33, "dx": 66},
 "resolve": {"axis": {"x": "independent", "y": "independent"}},
 "layer": [
  {"data": {"name": "lines"}, "transform": [{"filter": "datum.p == 'd' && datum.m == '30 + 10 (2-gluons)'"}],
   "mark": {"type": "point", "filled": true, "opacity": 0},
   "encoding": {
     "x": {"field": "x", "type": "quantitative", "scale": {"domain": [0.575, 2.5], "nice": false, "zero": false}, "axis": null},
     "y": {"field": "y", "type": "quantitative", "scale": {"type": "log", "domain": [0.001, 0.31], "nice": false}, "axis": null},
     "shape": {"field": "m", "type": "nominal", "scale": {"domain": ["30 + 10 (2-gluons)"], "range": ["stroke"]},
       "legend": {"orient": "none", "legendX": 53, "legendY": 7, "title": null, "symbolType": "stroke", "symbolSize": 1024, "symbolStrokeWidth": 1.5, "symbolOpacity": 0, "labelFontSize": 16, "labelOffset": 136, "padding": 8, "fillColor": "black", "strokeColor": "black", "labelColor": "black", "labelExpr": "''"}}
   }},
  {"data": {"name": "band"}, "transform": [{"filter": "datum.p == 'd'"}],
   "mark": {"type": "area", "color": "#7a7a7a", "opacity": 1},
   "encoding": {
     "x": {"field": "x", "type": "quantitative", "scale": {"domain": [0.575, 2.5], "nice": false, "zero": false},
       "axis": {"orient": "bottom", "values": [1, 1.5, 2, 2.5], "format": "~g", "domain": false, "tickSize": -8, "labelPadding": 11, "labelFontSize": 18, "title": "|t-t₀| (GeV/c)²", "titleAnchor": "end", "titleFontSize": 23, "titlePadding": 0, "minExtent": 23, "maxExtent": 23}},
     "y": {"field": "hi", "type": "quantitative", "scale": {"type": "log", "domain": [0.001, 0.31], "nice": false},
       "axis": {"orient": "left", "values": [0.001, 0.01, 0.1], "labelExpr": "datum.value < 0.005 ? '10⁻³' : (datum.value < 0.05 ? '10⁻²' : '10⁻¹')", "domain": true, "tickSize": -8, "labelPadding": 19, "labelFontSize": 18, "title": null}},
     "y2": {"field": "lo"}
   }},
  {"data": {"name": "band"}, "transform": [{"filter": "datum.p == 'd'"}],
   "mark": {"type": "line", "color": "black", "strokeWidth": 1},
   "encoding": {
     "x": {"field": "x", "type": "quantitative", "scale": {"domain": [0.575, 2.5], "nice": false, "zero": false}, "axis": null},
     "y": {"field": "hi", "type": "quantitative", "scale": {"type": "log", "domain": [0.001, 0.31], "nice": false}, "axis": null}
   }},
  {"data": {"name": "lines"}, "transform": [{"filter": "datum.p == 'd' && datum.m == 'Quasi-Free'"}],
   "mark": {"type": "line", "clip": true, "strokeWidth": 1.5, "interpolate": "monotone"},
   "encoding": {
     "x": {"field": "x", "type": "quantitative", "scale": {"domain": [0.575, 2.5], "nice": false, "zero": false}, "axis": null},
     "y": {"field": "y", "type": "quantitative", "scale": {"type": "log", "domain": [0.001, 0.31], "nice": false}, "axis": null},
     "color": {"field": "m", "type": "nominal", "scale": {"domain": ["30 + 4 (pomeron)", "Quasi-Free", "30 + 10 (pomeron)", "30 + 10 (2-gluons)"], "range": ["#0000ff", "#000000", "#ff00ff", "#ff0000"]},
       "legend": {"values": ["30 + 10 (2-gluons)"], "orient": "none", "legendX": 49, "legendY": 3, "title": null, "symbolType": "stroke", "symbolSize": 1024, "symbolStrokeWidth": 1.5, "labelFontSize": 16, "labelOffset": 8, "padding": 8, "fillColor": "white", "strokeColor": "black", "labelExpr": "datum.label + '  '"}},
     "strokeDash": {"field": "m", "type": "nominal", "scale": {"domain": ["30 + 4 (pomeron)", "Quasi-Free", "30 + 10 (pomeron)", "30 + 10 (2-gluons)"], "range": [[2, 2], [1, 0], [5, 2.5, 1.5, 2.5], [5, 3]]},
       "legend": {"values": ["30 + 10 (2-gluons)"], "orient": "none", "legendX": 49, "legendY": 3, "title": null, "symbolType": "stroke", "symbolSize": 1024, "symbolStrokeWidth": 1.5, "labelFontSize": 16, "labelOffset": 8, "padding": 8, "fillColor": "white", "strokeColor": "black", "labelExpr": "datum.label + '  '"}}
   }},
  {"data": {"name": "lines"}, "transform": [{"filter": "datum.p == 'd' && datum.m == '30 + 4 (pomeron)'"}],
   "mark": {"type": "line", "clip": true, "strokeWidth": 1.5, "interpolate": "monotone"},
   "encoding": {
     "x": {"field": "x", "type": "quantitative", "scale": {"domain": [0.575, 2.5], "nice": false, "zero": false}, "axis": null},
     "y": {"field": "y", "type": "quantitative", "scale": {"type": "log", "domain": [0.001, 0.31], "nice": false}, "axis": null},
     "color": {"field": "m", "type": "nominal", "scale": {"domain": ["30 + 4 (pomeron)", "Quasi-Free", "30 + 10 (pomeron)", "30 + 10 (2-gluons)"], "range": ["#0000ff", "#000000", "#ff00ff", "#ff0000"]},
       "legend": {"values": ["30 + 10 (2-gluons)"], "orient": "none", "legendX": 49, "legendY": 3, "title": null, "symbolType": "stroke", "symbolSize": 1024, "symbolStrokeWidth": 1.5, "labelFontSize": 16, "labelOffset": 8, "padding": 8, "fillColor": "white", "strokeColor": "black", "labelExpr": "datum.label + '  '"}},
     "strokeDash": {"field": "m", "type": "nominal", "scale": {"domain": ["30 + 4 (pomeron)", "Quasi-Free", "30 + 10 (pomeron)", "30 + 10 (2-gluons)"], "range": [[2, 2], [1, 0], [5, 2.5, 1.5, 2.5], [5, 3]]},
       "legend": {"values": ["30 + 10 (2-gluons)"], "orient": "none", "legendX": 49, "legendY": 3, "title": null, "symbolType": "stroke", "symbolSize": 1024, "symbolStrokeWidth": 1.5, "labelFontSize": 16, "labelOffset": 8, "padding": 8, "fillColor": "white", "strokeColor": "black", "labelExpr": "datum.label + '  '"}}
   }},
  {"data": {"name": "lines"}, "transform": [{"filter": "datum.p == 'd' && datum.m == '30 + 10 (pomeron)'"}],
   "mark": {"type": "line", "clip": true, "strokeWidth": 1.5, "interpolate": "monotone"},
   "encoding": {
     "x": {"field": "x", "type": "quantitative", "scale": {"domain": [0.575, 2.5], "nice": false, "zero": false}, "axis": null},
     "y": {"field": "y", "type": "quantitative", "scale": {"type": "log", "domain": [0.001, 0.31], "nice": false}, "axis": null},
     "color": {"field": "m", "type": "nominal", "scale": {"domain": ["30 + 4 (pomeron)", "Quasi-Free", "30 + 10 (pomeron)", "30 + 10 (2-gluons)"], "range": ["#0000ff", "#000000", "#ff00ff", "#ff0000"]},
       "legend": {"values": ["30 + 10 (2-gluons)"], "orient": "none", "legendX": 49, "legendY": 3, "title": null, "symbolType": "stroke", "symbolSize": 1024, "symbolStrokeWidth": 1.5, "labelFontSize": 16, "labelOffset": 8, "padding": 8, "fillColor": "white", "strokeColor": "black", "labelExpr": "datum.label + '  '"}},
     "strokeDash": {"field": "m", "type": "nominal", "scale": {"domain": ["30 + 4 (pomeron)", "Quasi-Free", "30 + 10 (pomeron)", "30 + 10 (2-gluons)"], "range": [[2, 2], [1, 0], [5, 2.5, 1.5, 2.5], [5, 3]]},
       "legend": {"values": ["30 + 10 (2-gluons)"], "orient": "none", "legendX": 49, "legendY": 3, "title": null, "symbolType": "stroke", "symbolSize": 1024, "symbolStrokeWidth": 1.5, "labelFontSize": 16, "labelOffset": 8, "padding": 8, "fillColor": "white", "strokeColor": "black", "labelExpr": "datum.label + '  '"}}
   }},
  {"data": {"name": "lines"}, "transform": [{"filter": "datum.p == 'd' && datum.m == '30 + 10 (2-gluons)'"}],
   "mark": {"type": "line", "clip": true, "strokeWidth": 1.5, "interpolate": "monotone"},
   "encoding": {
     "x": {"field": "x", "type": "quantitative", "scale": {"domain": [0.575, 2.5], "nice": false, "zero": false}, "axis": null},
     "y": {"field": "y", "type": "quantitative", "scale": {"type": "log", "domain": [0.001, 0.31], "nice": false}, "axis": null},
     "color": {"field": "m", "type": "nominal", "scale": {"domain": ["30 + 4 (pomeron)", "Quasi-Free", "30 + 10 (pomeron)", "30 + 10 (2-gluons)"], "range": ["#0000ff", "#000000", "#ff00ff", "#ff0000"]},
       "legend": {"values": ["30 + 10 (2-gluons)"], "orient": "none", "legendX": 49, "legendY": 3, "title": null, "symbolType": "stroke", "symbolSize": 1024, "symbolStrokeWidth": 1.5, "labelFontSize": 16, "labelOffset": 8, "padding": 8, "fillColor": "white", "strokeColor": "black", "labelExpr": "datum.label + '  '"}},
     "strokeDash": {"field": "m", "type": "nominal", "scale": {"domain": ["30 + 4 (pomeron)", "Quasi-Free", "30 + 10 (pomeron)", "30 + 10 (2-gluons)"], "range": [[2, 2], [1, 0], [5, 2.5, 1.5, 2.5], [5, 3]]},
       "legend": {"values": ["30 + 10 (2-gluons)"], "orient": "none", "legendX": 49, "legendY": 3, "title": null, "symbolType": "stroke", "symbolSize": 1024, "symbolStrokeWidth": 1.5, "labelFontSize": 16, "labelOffset": 8, "padding": 8, "fillColor": "white", "strokeColor": "black", "labelExpr": "datum.label + '  '"}}
   }},
  {"data": {"name": "pts"}, "transform": [{"filter": "datum.p == 'd'"}],
   "mark": {"type": "rule", "color": "#ff0000", "strokeWidth": 1.5},
   "encoding": {
     "x": {"field": "x", "type": "quantitative", "scale": {"domain": [0.575, 2.5], "nice": false, "zero": false}, "axis": {"orient": "top", "domain": true, "ticks": false, "labels": false, "title": null}},
     "y": {"field": "lo", "type": "quantitative", "scale": {"type": "log", "domain": [0.001, 0.31], "nice": false}, "axis": null},
     "y2": {"field": "hi"}
   }},
  {"data": {"name": "pts"}, "transform": [{"filter": "datum.p == 'd'"}],
   "mark": {"type": "circle", "color": "#ff0000", "opacity": 1, "size": 60},
   "encoding": {
     "x": {"field": "x", "type": "quantitative", "scale": {"domain": [0.575, 2.5], "nice": false, "zero": false}, "axis": {"orient": "bottom", "values": [0.6,0.7,0.8,0.9,1.1,1.2,1.3,1.4,1.6,1.7,1.8,1.9,2.1,2.2,2.3,2.4], "labels": false, "domain": false, "tickSize": -4, "title": null}},
     "y": {"field": "y", "type": "quantitative", "scale": {"type": "log", "domain": [0.001, 0.31], "nice": false}, "axis": {"orient": "left", "values": [0.002,0.003,0.004,0.005,0.006,0.007,0.008,0.009,0.02,0.03,0.04,0.05,0.06,0.07,0.08,0.09,0.2,0.3], "labels": false, "domain": false, "tickSize": -4, "title": null}}
   }}
 ]
}
]}
]
}
